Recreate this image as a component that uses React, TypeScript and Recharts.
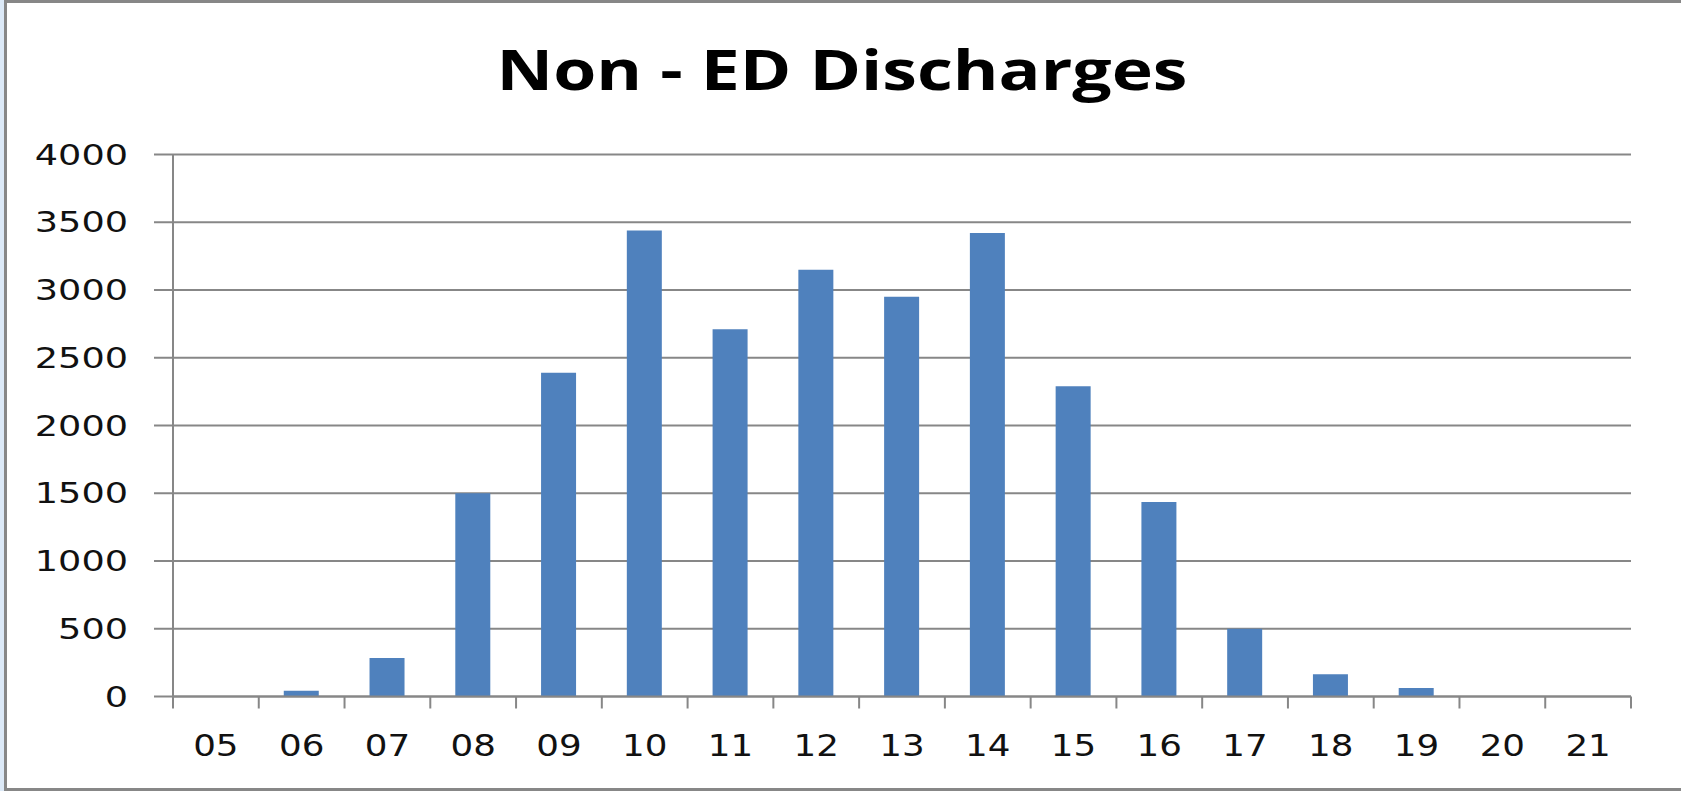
import React from 'react';
import { Bar, BarChart, CartesianGrid, XAxis, YAxis } from 'recharts';

const hours = ['05', '06', '07', '08', '09', '10', '11', '12', '13', '14', '15', '16', '17', '18', '19', '20', '21'];
const discharges = [0, 42, 284, 1500, 2390, 3440, 2710, 3150, 2950, 3420, 2290, 1435, 500, 165, 63, 0, 0];
const yTicks = [0, 500, 1000, 1500, 2000, 2500, 3000, 3500, 4000];
// category boundaries, where the x tick marks sit
const edgeTicks = [0, ...hours.map((_, i) => i + 1)];

// pos = centre of each category on a 0..n number line
const data = hours.map((h, i) => ({ hour: h, value: discharges[i], pos: i + 0.5 }));

const GRID = '#878787';
const TEXT = '#111';

function YTick(props: any) {
  const { x, y, payload } = props;
  const s = String(payload.value);
  return (
    <text
      x={x}
      y={y}
      dy={10}
      textAnchor="end"
      fontFamily="DejaVu Sans"
      fontSize={29}
      fill={TEXT}
      textLength={s.length * 23.3}
      lengthAdjust="spacingAndGlyphs"
    >
      {s}
    </text>
  );
}

function XTick(props: any) {
  const { x, y, payload } = props;
  const s = String(payload.value);
  return (
    <text
      x={x}
      y={y + 59}
      textAnchor="middle"
      fontFamily="DejaVu Sans"
      fontSize={31}
      fill={TEXT}
      textLength={s.length * 22.7}
      lengthAdjust="spacingAndGlyphs"
    >
      {s}
    </text>
  );
}

export default function App() {
  return (
    <div
      style={{
        position: 'absolute',
        left: 0,
        top: 0,
        width: 1681,
        height: 791,
        background: '#fff',
        boxShadow: `inset 4px 0 0 #dce9f7, inset 7px 0 0 ${GRID}, inset 0 3px 0 ${GRID}, inset 0 -3px 0 ${GRID}`,
      }}
    >
      <svg width={1681} height={120} style={{ position: 'absolute', left: 0, top: 0 }}>
        <text
          x={842}
          y={90}
          textAnchor="middle"
          fontFamily="Open Sans"
          fontWeight="bold"
          fontSize={56}
          fill="#000"
          textLength={691}
          lengthAdjust="spacingAndGlyphs"
        >
          Non - ED Discharges
        </text>
      </svg>
      <div style={{ position: 'absolute', left: 0, top: 0 }}>
        <BarChart
          width={1681}
          height={791}
          data={data}
          margin={{ top: 154.5, right: 50, bottom: 0, left: 0 }}
        >
          <CartesianGrid vertical={false} stroke={GRID} strokeWidth={2} />
          <XAxis
            xAxisId="cat"
            dataKey="hour"
            height={94.5}
            tickLine={false}
            tickSize={0}
            tickMargin={0}
            axisLine={{ stroke: GRID, strokeWidth: 2 }}
            tick={<XTick />}
            interval={0}
          />
          <XAxis
            xAxisId="edges"
            type="number"
            dataKey="pos"
            domain={[0, hours.length]}
            ticks={edgeTicks}
            allowDataOverflow
            mirror
            tickSize={-12}
            tickLine={{ stroke: GRID, strokeWidth: 2 }}
            axisLine={false}
            tickFormatter={() => ''}
            interval={0}
          />
          <YAxis
            width={173}
            domain={[0, 4000]}
            ticks={yTicks}
            interval={0}
            tickSize={19}
            tickMargin={26}
            tickLine={{ stroke: GRID, strokeWidth: 2 }}
            axisLine={{ stroke: GRID, strokeWidth: 2 }}
            tick={<YTick />}
          />
          <Bar xAxisId="cat" dataKey="value" fill="#4F81BD" barSize={35} isAnimationActive={false} />
        </BarChart>
      </div>
    </div>
  );
}
